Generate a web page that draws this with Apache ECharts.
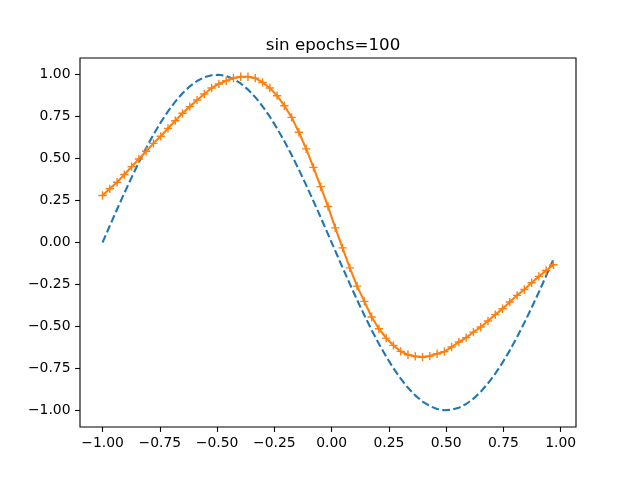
<!DOCTYPE html>
<html>
<head>
<meta charset="utf-8">
<script src="https://cdn.jsdelivr.net/npm/echarts@6/dist/echarts.min.js"></script>
<style>
  html, body { margin: 0; padding: 0; background: #fff; }
  #chart { width: 640px; height: 480px; }
</style>
</head>
<body>
<div id="chart"></div>
<script>
// x positions of the samples
const xs = [
  -1.0000, -0.9683, -0.9365, -0.9048, -0.8730, -0.8413, -0.8095, -0.7778, -0.7460, -0.7143,
  -0.6825, -0.6508, -0.6190, -0.5873, -0.5556, -0.5238, -0.4921, -0.4603, -0.4286, -0.3968,
  -0.3651, -0.3333, -0.3016, -0.2698, -0.2381, -0.2063, -0.1746, -0.1429, -0.1111, -0.0794,
  -0.0476, -0.0159, 0.0159, 0.0476, 0.0794, 0.1111, 0.1429, 0.1746, 0.2063, 0.2381,
  0.2698, 0.3016, 0.3333, 0.3651, 0.3968, 0.4286, 0.4603, 0.4921, 0.5238, 0.5556,
  0.5873, 0.6190, 0.6508, 0.6825, 0.7143, 0.7460, 0.7778, 0.8095, 0.8413, 0.8730,
  0.9048, 0.9365, 0.9683
]

// dashed blue curve (target)
const target = [
  0.0000, 0.0996, 0.1981, 0.2948, 0.3884, 0.4783, 0.5633, 0.6428, 0.7159, 0.7818,
  0.8400, 0.8899, 0.9309, 0.9626, 0.9848, 0.9972, 0.9997, 0.9922, 0.9749, 0.9479,
  0.9115, 0.8660, 0.8119, 0.7498, 0.6802, 0.6038, 0.5214, 0.4339, 0.3420, 0.2468,
  0.1490, 0.0498, -0.0498, -0.1490, -0.2468, -0.3420, -0.4339, -0.5214, -0.6038, -0.6802,
  -0.7498, -0.8119, -0.8660, -0.9115, -0.9479, -0.9749, -0.9922, -0.9997, -0.9972, -0.9848,
  -0.9626, -0.9309, -0.8899, -0.8400, -0.7818, -0.7159, -0.6428, -0.5633, -0.4783, -0.3884,
  -0.2948, -0.1981, -0.0996
]

// orange curve with + markers (prediction)
const pred = [
  0.280, 0.320, 0.359, 0.405, 0.452, 0.498, 0.544, 0.591, 0.633, 0.680,
  0.726, 0.770, 0.810, 0.849, 0.885, 0.921, 0.945, 0.964, 0.980, 0.988,
  0.988, 0.980, 0.954, 0.921, 0.875, 0.815, 0.746, 0.657, 0.558, 0.448,
  0.333, 0.215, 0.087, -0.032, -0.151, -0.260, -0.351, -0.444, -0.514, -0.570,
  -0.613, -0.649, -0.669, -0.679, -0.683, -0.677, -0.663, -0.651, -0.623, -0.593,
  -0.567, -0.534, -0.504, -0.468, -0.430, -0.395, -0.355, -0.315, -0.280, -0.240,
  -0.202, -0.167, -0.133
]

const xTicks = [-1, -0.75, -0.5, -0.25, 0, 0.25, 0.5, 0.75, 1]
const yTicks = [-1, -0.75, -0.5, -0.25, 0, 0.25, 0.5, 0.75, 1]

const fmt = v => v.toFixed(2).replace('-', '\u2212')
const fonte = 'DejaVu Sans'

const chart = echarts.init(document.getElementById('chart'), null, { renderer: 'canvas' })

const eixo = (ticks) => ({
  type: 'value',
  splitLine: { show: false },
  axisLine: { show: false, onZero: false },
  axisTick: {
    show: true, inside: false, length: 4.9,
    lineStyle: { color: '#000', width: 1.1 },
    customValues: ticks
  },
  axisLabel: {
    show: true, margin: 9.5, color: '#000',
    fontFamily: fonte, fontSize: 13.9,
    customValues: ticks,
    formatter: fmt
  }
})

const option = {
  animation: false,
  backgroundColor: '#fff',
  title: {
    text: 'sin epochs=100',
    left: 328,
    top: 32,
    textAlign: 'center',
    textStyle: { fontFamily: fonte, fontSize: 16.7, fontWeight: 'normal', color: '#000' }
  },
  grid: {
    left: 80, top: 58, width: 496, height: 369,
    show: true, borderColor: '#000', borderWidth: 1.1, backgroundColor: '#fff'
  },
  xAxis: Object.assign(eixo(xTicks), { min: -1.0984, max: 1.0667 }),
  yAxis: Object.assign(eixo(yTicks), { min: -1.0997, max: 1.0997 }),
  series: [
    {
      type: 'line',
      data: xs.map((x, i) => [x, target[i]]),
      showSymbol: false,
      lineStyle: { color: '#1f77b4', width: 2.1, type: [7.7, 3.3] },
      z: 2
    },
    {
      type: 'line',
      data: xs.map((x, i) => [x, pred[i]]),
      symbol: 'path://M5,0L5,10M0,5L10,5',
      symbolSize: 8.3,
      showSymbol: true,
      itemStyle: { color: '#ff7f0e', borderColor: '#ff7f0e', borderWidth: 1.4 },
      lineStyle: { color: '#ff7f0e', width: 2.1 },
      z: 3
    }
  ]
}

chart.setOption(option)
</script>
</body>
</html>
